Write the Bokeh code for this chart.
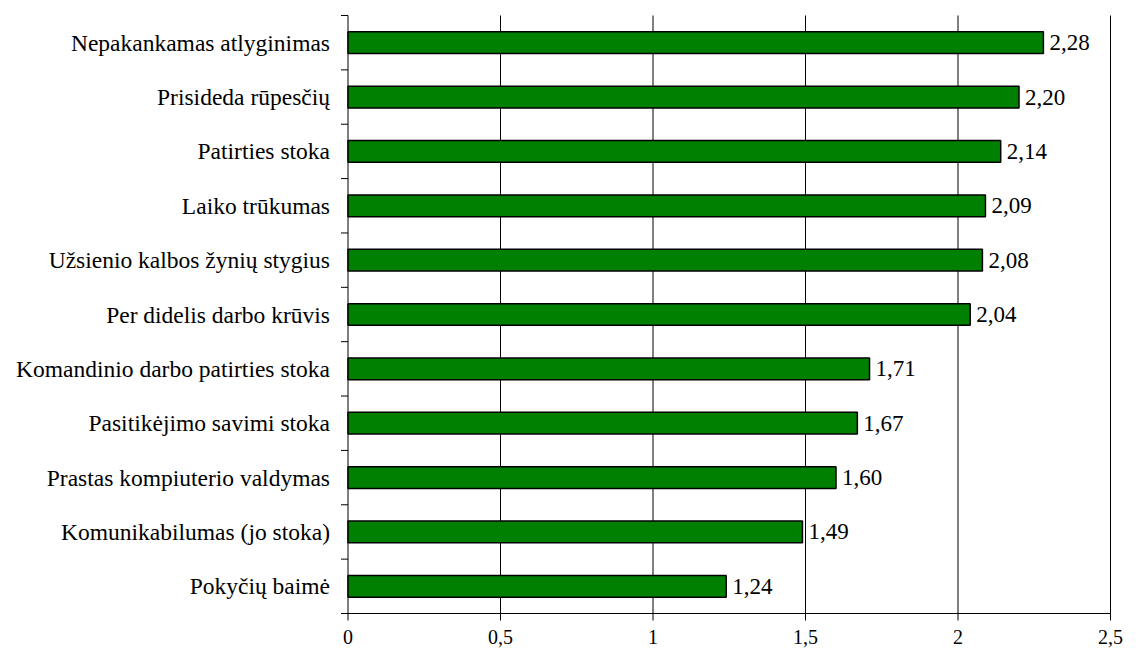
import math
from bokeh.plotting import figure
from bokeh.models import ColumnDataSource, Range1d, LabelSet
from bokeh.embed import file_html
from bokeh.resources import INLINE

categories = [
    "Nepakankamas atlyginimas",
    "Prisideda rūpesčių",
    "Patirties stoka",
    "Laiko trūkumas",
    "Užsienio kalbos žynių stygius",
    "Per didelis darbo krūvis",
    "Komandinio darbo patirties stoka",
    "Pasitikėjimo savimi stoka",
    "Prastas kompiuterio valdymas",
    "Komunikabilumas (jo stoka)",
    "Pokyčių baimė",
]
values = [2.28, 2.20, 2.14, 2.09, 2.08, 2.04, 1.71, 1.67, 1.60, 1.49, 1.24]
x_ticks = [0, 0.5, 1, 1.5, 2, 2.5]
x_tick_labels = ["0", "0,5", "1", "1,5", "2", "2,5"]

n = len(categories)
ypos = [n - 1 - i for i in range(n)]          # top category highest
labels = [f"{v:.2f}".replace(".", ",") for v in values]
boundaries = [i - 0.5 for i in range(n + 1)]
y_lo, y_hi = boundaries[0], boundaries[-1]
x_lo, x_hi = x_ticks[0], x_ticks[-1]

# ---- layout (pixels): the plotting frame covers the whole canvas ----
W, H = 1123, 651
PX0, PX1 = 347.5, 1110.0     # where x=0 and x=2.5 sit
PY_TOP, PY_BOT = 15.0, 613.0 # where the top and bottom category edges sit
sx = (PX1 - PX0) / (x_hi - x_lo)
sy = (PY_BOT - PY_TOP) / (y_hi - y_lo)
x_range = Range1d(x_lo - PX0 / sx, x_hi + (W - PX1) / sx)
y_range = Range1d(y_lo - (H - PY_BOT) / sy, y_hi + PY_TOP / sy)

FONT = "Liberation Serif"

p = figure(width=W, height=H, output_backend="svg", toolbar_location=None,
           x_range=x_range, y_range=y_range,
           x_axis_location=None, y_axis_location=None,
           min_border=0, min_border_left=0, min_border_right=0,
           min_border_top=0, min_border_bottom=0)
p.outline_line_color = None
p.background_fill_color = "white"
p.border_fill_color = "white"
p.xgrid.visible = False
p.ygrid.visible = False

src = ColumnDataSource(dict(y=ypos, v=values, cat=categories, lab=labels,
                            zero=[x_lo] * n))
xsrc = ColumnDataSource(dict(x=x_ticks, lab=x_tick_labels,
                             ylo=[y_lo] * len(x_ticks),
                             yhi=[y_hi] * len(x_ticks)))
bsrc = ColumnDataSource(dict(y=boundaries, x=[x_lo] * len(boundaries)))

# vertical grid lines (the one at 0 is the value axis line)
p.segment(x0="x", y0="ylo", x1="x", y1="yhi", source=xsrc,
          line_color="black", line_width=1)
# horizontal axis line
p.segment(x0=[x_lo], y0=[y_lo], x1=[x_hi], y1=[y_lo],
          line_color="black", line_width=1)
# tick marks (7 px, outside)
p.ray(x="x", y="y", length=7, angle=math.pi, length_units="screen",
      source=bsrc, line_color="black", line_width=1)
p.ray(x="x", y="ylo", length=7, angle=-math.pi / 2, length_units="screen",
      source=xsrc, line_color="black", line_width=1)

# bars
p.hbar(y="y", right="v", left=0, height=0.4, source=src,
       fill_color="#008000", line_color="black", line_width=1.5)

# value labels
p.add_layout(LabelSet(x="v", y="y", text="lab", source=src, x_offset=6,
                      text_font=FONT, text_font_size="23px",
                      text_baseline="middle", text_color="black"))
# category labels
p.add_layout(LabelSet(x="zero", y="y", text="cat", source=src, x_offset=-18,
                      text_align="right", text_baseline="middle",
                      text_font=FONT, text_font_size="23.5px",
                      text_color="black"))
# x tick labels
p.add_layout(LabelSet(x="x", y="ylo", text="lab", source=xsrc, y_offset=-16,
                      text_align="center", text_baseline="top",
                      text_font=FONT, text_font_size="20px",
                      text_color="black"))

open("out.html", "w").write(file_html(p, INLINE))
